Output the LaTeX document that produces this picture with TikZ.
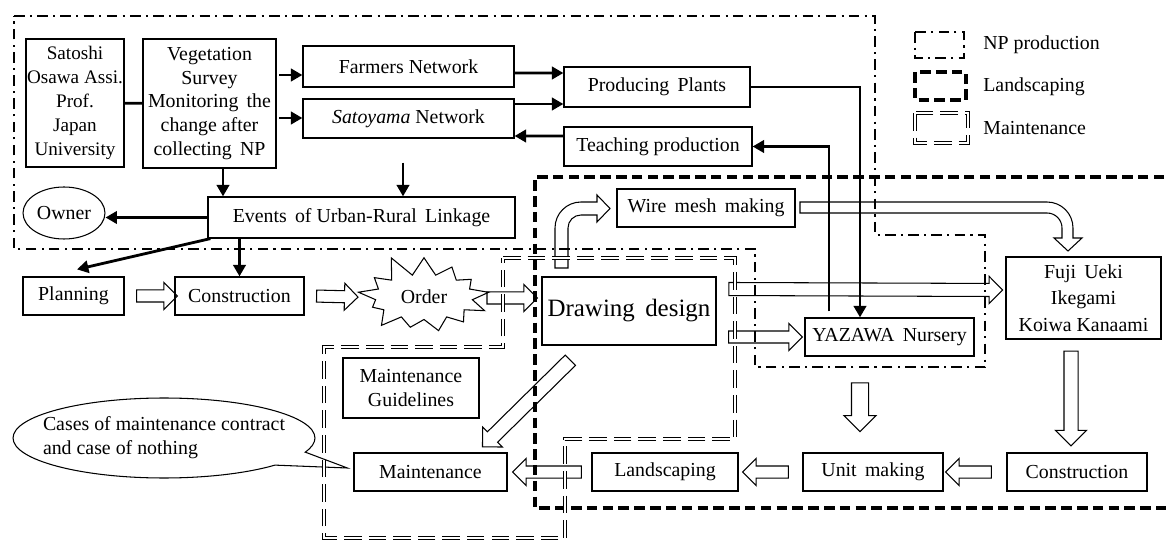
\documentclass[tikz,border=0pt]{standalone}
\usepackage{fontspec}
\setmainfont{Liberation Serif}
\usetikzlibrary{arrows.meta,calc,shapes.geometric,shapes.symbols,shapes.arrows,shapes.callouts}
\def\PX{0.02cm}
\newcommand\harrow[3][]{\path let \p1=(#2), \p2=(#3), \n1={veclen(\x2-\x1,\y2-\y1)}, \n2={atan2(\y2-\y1,\x2-\x1)} in node[hol, minimum height=\n1, rotate=\n2, #1] at ($(\p1)!0.5!(\p2)$) {};}
\begin{document}
\begin{tikzpicture}[x=0.02cm,y=-0.02cm,
  font=\fontsize{11.3}{13.6}\selectfont,
  box/.style={draw, line width=0.7pt, inner sep=0pt, align=center},
  blk/.style={line width=1.6pt, -{Triangle[length=6.5pt,width=7pt]}},
  hol/.style={single arrow, draw, line width=0.6pt, inner xsep=0pt, inner ysep=0.11cm, single arrow head extend=0.15cm, single arrow tip angle=90},
  npreg/.style={line width=1.5pt, dash pattern=on 6pt off 3pt on 1.2pt off 3pt},
  lsreg/.style={line width=1.9pt, dash pattern=on 6pt off 3pt},
  mtreg/.style={double, double distance=1.4pt, line width=0.6pt, dash pattern=on 10pt off 4pt},
  hollowpath/.style={draw, line width=0.6pt}
]
\useasboundingbox (0,0) rectangle (1166,540);
\clip (0,0) rectangle (1166,540);

% nodes
\node[box, minimum width=1.96cm, minimum height=2.56cm, font=\fontsize{10.9}{13.6}\selectfont] (sat) at (75,103) {Satoshi\\Osawa Assi.\\Prof.\\Japan\\University};
\node[box, minimum width=2.66cm, minimum height=2.58cm] (veg) at (209.5,103.5) {Vegetation\\Survey\\Monitoring\, the\\change after\\collecting\, NP};
\node[box, minimum width=4.22cm, minimum height=0.82cm] (farm) at (408.5,66.5) {Farmers Network};
\node[box, minimum width=4.22cm, minimum height=0.78cm] (sato) at (408.5,118.5) {\textit{Satoyama} Network};
\node[box, minimum width=3.72cm, minimum height=0.80cm] (prod) at (657,87) {Producing\, Plants};
\node[box, minimum width=3.76cm, minimum height=0.78cm] (teach) at (658,146.5) {Teaching production};
\node[box, minimum width=6.14cm, minimum height=0.82cm] (events) at (361.5,217.5) {Events\, of Urban-Rural\, Linkage};
\node[draw, ellipse, line width=0.6pt, inner sep=0pt, minimum width=1.64cm, minimum height=1.04cm] (owner) at (64,213) {Owner};
\node[box, minimum width=2.02cm, minimum height=0.76cm] (plan) at (73.5,296) {Planning};
\node[box, minimum width=2.58cm, minimum height=0.76cm] (cons1) at (239.5,296) {Construction};
\node[draw, starburst, starburst points=13, random starburst=11, starburst point height=0.45cm, minimum width=2.85cm, minimum height=1.8cm, inner sep=0pt, line width=0.6pt] (order) at (424,297) {Order};
\node[box, minimum width=3.48cm, minimum height=1.36cm, font=\fontsize{14.2}{16}\selectfont] (draw) at (629,311) {Drawing\, design};
\node[box, minimum width=3.56cm, minimum height=0.76cm] (wire) at (706,208) {Wire\, mesh\, making};
\node[box, minimum width=3.38cm, minimum height=0.76cm] (yaz) at (889.5,337) {YAZAWA\, Nursery};
\node[box, minimum width=3.10cm, minimum height=1.64cm, font=\fontsize{11.3}{15.2}\selectfont] (fuji) at (1083.5,298) {Fuji\, Ueki\\Ikegami\\Koiwa Kanaami};
\node[box, minimum width=2.80cm, minimum height=0.76cm] (unit) at (873,472) {Unit\, making};
\node[box, minimum width=2.80cm, minimum height=0.76cm] (cons2) at (1077,472) {Construction};
\node[box, minimum width=2.92cm, minimum height=0.76cm] (land) at (665,472) {Landscaping};
\node[box, minimum width=3.06cm, minimum height=0.76cm] (maint) at (430.5,472) {Maintenance};
\node[box, minimum width=2.72cm, minimum height=1.20cm] (guide) at (411,388) {Maintenance\\Guidelines};
\node[draw, ellipse callout, line width=0.6pt, minimum width=6.04cm, minimum height=1.60cm, inner sep=0pt, callout pointer arc=22, callout absolute pointer={($(maint.west)+(-6,-4)$)}] (call) at (164,438) {\makebox[3.6cm]{\begin{tabular}{@{}l@{}}Cases of maintenance contract\\and case of nothing\end{tabular}}};

% black arrows
\draw[line width=1.6pt] (sat) -- (veg);
\draw[blk] ($(farm.west)+(-23,8.5)$) -- ($(farm.west)+(0,8.5)$);
\draw[blk] ($(sato.west)+(-23,-0.5)$) -- ($(sato.west)+(0,-0.5)$);
\draw[blk] ($(farm.east)+(0,6.5)$) -- ($(prod.west)+(0,-14)$);
\draw[blk] ($(sato.east)+(0,-14.5)$) -- ($(prod.west)+(0,17)$);
\draw[blk] ($(teach.west)+(0,-10.5)$) -- ($(sato.east)+(0,17.5)$);
\draw[blk] (prod.east) -| ($(yaz.north)+(-29.5,0)$);
\draw[blk] ($(yaz.north)+(-60.5,-6)$) |- (teach.east);
\draw[blk] ($(veg.south)+(13.5,0)$) -- ($(events.north -| veg.south)+(13.5,0)$);
\draw[blk] ($(sato.south)+(-5.5,24)$) -- ($(events.north -| sato.south)+(-5.5,0)$);
\draw[blk] (events.west) -- (events.west -| owner.east);
\draw[blk] ($(events.south west)+(3,0)$) -- ($(plan.north)+(3.5,-7)$);
\draw[blk] (events.south -| cons1.north) -- (cons1.north);

% hollow arrows
\harrow{[xshift=0.18cm]plan.east}{cons1.west}
\harrow{[xshift=0.18cm]cons1.east}{$(order.center)+(-69,0)$}
\harrow{$(order.center)+(60,1)$}{$(draw.west |- order.center)+(-7,1)$}
\harrow[inner ysep=0.12cm, single arrow head extend=0.14cm]{$(draw.east)+(9,-22)$}{$(fuji.west)+(-6,-8)$}
\harrow{$(draw.east)+(9,26)$}{$(yaz.west)+(-5,0)$}
\harrow[inner ysep=0.16cm, single arrow head extend=0.15cm]{$(yaz.south)+(-29.5,22)$}{$(unit.north)+(-13,-25)$}
\harrow[inner ysep=0.13cm, single arrow head extend=0.17cm]{$(fuji.south)+(-12.5,8)$}{$(cons2.north)+(-6,-10)$}
\harrow{$(cons2.west)+(-12,0)$}{$(unit.east)+(5,0)$}
\harrow{$(unit.west)+(-11,0)$}{$(land.east)+(7,0)$}
\harrow{$(land.west)+(-7,0)$}{$(maint.east)+(8,0)$}
\harrow[inner ysep=0.135cm, single arrow head extend=0.135cm]{$(draw.south)+(-56,12)$}{$(maint.north)+(54.5,-8)$}

% curved hollow arrows
\path[hollowpath] (555,268) -- (555,228) .. controls (555,213.6) and (566.6,202) .. (581,202) -- (597,202) -- (597,195) -- (610,208.5) -- (597,222) -- (597,215) -- (581,215) .. controls (573.8,215) and (568,220.8) .. (568,228) -- (568,268) -- cycle;
\path[hollowpath] (800,202) -- (1047,202) .. controls (1061.4,202) and (1073,213.6) .. (1073,228) -- (1073,238) -- (1082,238) -- (1068,251) -- (1054,238) -- (1062,238) -- (1062,228) .. controls (1062,219.7) and (1055.3,213) .. (1047,213) -- (800,213) -- cycle;

% regions
\draw[npreg] (14,16) -- (875,16) -- (875,235) -- (985,235) -- (985,367) -- (755,367) -- (755,249) -- (14,249) -- cycle;
\draw[lsreg] (1180,177) -- (535,177) -- (535,508) -- (1180,508);
\draw[mtreg] (503,258) -- (735,258) -- (735,439) -- (565,439) -- (565,538) -- (324,538) -- (324,347) -- (503,347) -- cycle;

% legend
\draw[npreg] (915,32) rectangle (964,58);
\draw[lsreg] (915,72) rectangle (966,100);
\draw[mtreg] (915,113) rectangle (968,143);
\node[anchor=west, inner sep=0pt] (lg1) at (983,45) {NP production};
\node[anchor=west, inner sep=0pt] (lg2) at (983,87) {Landscaping};
\node[anchor=west, inner sep=0pt] (lg3) at (983,128) {Maintenance};
\end{tikzpicture}
\end{document}
